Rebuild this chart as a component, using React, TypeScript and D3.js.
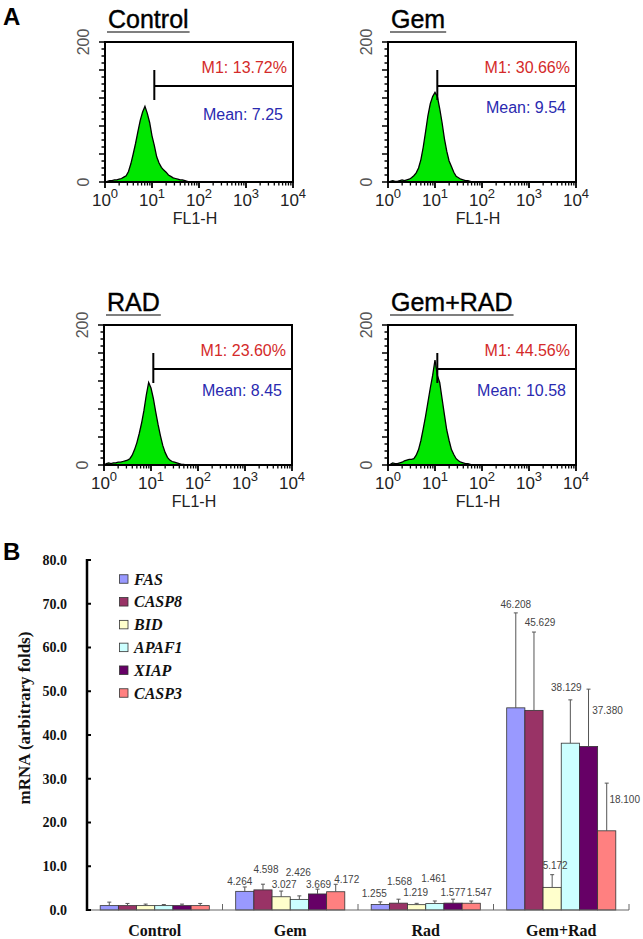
import React, { useEffect, useRef } from 'react';
import * as d3 from 'd3';

// ---- Panel A: flow cytometry histograms ----
const flowTitles = ['Control', 'Gem', 'RAD', 'Gem+RAD'];
const m1Labels = ['M1: 13.72%', 'M1: 30.66%', 'M1: 23.60%', 'M1: 44.56%'];
const meanLabels = ['Mean: 7.25', 'Mean: 9.54', 'Mean: 8.45', 'Mean: 10.58'];
const gateStart = 11.2; // M1 lower bound on FL1-H
const xTickExps = [0, 1, 2, 3, 4];

// channel positions (log10 of FL1-H)
const binLog = [0, 0.05, 0.1, 0.15, 0.2, 0.25, 0.3, 0.35, 0.4, 0.45, 0.5, 0.55, 0.6, 0.65, 0.7, 0.75, 0.8, 0.85, 0.9,
  0.95, 1.0, 1.05, 1.1, 1.15, 1.2, 1.25, 1.3, 1.35, 1.4, 1.45, 1.5, 1.55, 1.6, 1.65, 1.7, 1.75, 1.8];

const controlCounts = [0, 1, 2, 2, 3, 3, 4, 5, 7, 9, 15, 26, 40, 55, 72, 88, 100, 108, 98,
  85, 66, 52, 36, 27, 21, 17, 14, 10, 8, 6, 5, 4, 3, 3, 2, 1, 0];
const gemCounts = [0, 1, 2, 1, 1, 2, 3, 2, 3, 4, 6, 9, 13, 20, 32, 50, 72, 95, 112,
  122, 128, 122, 105, 85, 62, 44, 30, 22, 14, 8, 6, 4, 3, 2, 2, 1, 0];
const radCounts = [0, 2, 3, 2, 3, 3, 4, 4, 5, 6, 7, 9, 14, 22, 32, 45, 60, 78, 100,
  118, 110, 95, 76, 58, 42, 28, 18, 11, 7, 5, 4, 3, 2, 1, 1, 0, 0];
const gemRadCounts = [0, 1, 3, 2, 2, 3, 4, 6, 7, 8, 8, 9, 14, 22, 35, 52, 70, 90, 110,
  128, 150, 128, 118, 95, 72, 50, 35, 22, 15, 9, 6, 4, 3, 2, 2, 1, 0];

// ---- Panel B: qPCR bar chart ----
const categories = ['Control', 'Gem', 'Rad', 'Gem+Rad'];
const genes = ['FAS', 'CASP8', 'BID', 'APAF1', 'XIAP', 'CASP3'];
const geneColors = ['#9999ff', '#993366', '#ffffcc', '#ccffff', '#660066', '#ff8080'];

const controlValues = [1.0, 1.0, 1.0, 1.0, 1.0, 1.0];
const gemValues = [4.264, 4.598, 3.027, 2.426, 3.669, 4.172];
const radValues = [1.255, 1.568, 1.219, 1.461, 1.577, 1.547];
const gemRadValues = [46.208, 45.629, 5.172, 38.129, 37.380, 18.100];

const controlErrors = [0.8, 0.5, 0.35, 0.25, 0.35, 0.5];
const gemErrors = [1.0, 1.3, 1.3, 0.8, 1.1, 1.7];
const radErrors = [0.6, 0.9, 0.3, 0.6, 0.9, 0.5];
const gemRadErrors = [21.7, 17.9, 2.9, 9.9, 13.1, 10.9];

const showValueLabels = [false, true, true, true];
const yTicks = [0, 10, 20, 30, 40, 50, 60, 70, 80];

const App = () => {
  const svgRef = useRef(null);

  useEffect(() => {
    const svg = d3.select(svgRef.current);
    svg.selectAll('*').remove();

    const sans = 'Liberation Sans, Arial, sans-serif';
    const serif = 'Liberation Serif, Times New Roman, serif';

    // panel letters
    svg.append('text').attr('x', 3).attr('y', 25).attr('font-family', sans)
      .attr('font-weight', 'bold').attr('font-size', 24).text('A');
    svg.append('text').attr('x', 3).attr('y', 560).attr('font-family', sans)
      .attr('font-weight', 'bold').attr('font-size', 24).text('B');

    // ---------- Panel A ----------
    const countsAll = [controlCounts, gemCounts, radCounts, gemRadCounts];
    const boxW = 188, boxH = 140;
    const origins = [[105, 42], [388, 42], [104, 325], [388, 325]];
    const meanDy = [78, 71, 71, 71];

    countsAll.forEach((counts, i) => {
      const [x0, y0] = origins[i];
      const g = svg.append('g');
      const x = d3.scaleLog().domain([1, 10000]).range([x0, x0 + boxW]);
      const y = d3.scaleLinear().domain([0, 200]).range([y0 + boxH, y0]);

      const pts = binLog.map((l, j) => ({ v: Math.pow(10, l), c: counts[j] }));
      const area = d3.area()
        .x(d => x(d.v))
        .y0(y(0))
        .y1(d => y(d.c));
      const line = d3.line().x(d => x(d.v)).y(d => y(d.c));

      g.append('path').attr('d', area(pts)).attr('fill', '#00e600');
      g.append('path').attr('d', line(pts)).attr('fill', 'none')
        .attr('stroke', '#000').attr('stroke-width', 1.3);

      // frame
      g.append('rect').attr('x', x0).attr('y', y0).attr('width', boxW).attr('height', boxH)
        .attr('fill', 'none').attr('stroke', '#000').attr('stroke-width', 2);

      // x ticks (log decades + minors)
      xTickExps.forEach(e => {
        const base = Math.pow(10, e);
        g.append('line').attr('x1', x(base)).attr('x2', x(base))
          .attr('y1', y0 + boxH).attr('y2', y0 + boxH + 6)
          .attr('stroke', '#000').attr('stroke-width', 1.8);
        if (e < 4) {
          for (let m = 2; m <= 9; m++) {
            const xv = x(m * base);
            g.append('line').attr('x1', xv).attr('x2', xv)
              .attr('y1', y0 + boxH).attr('y2', y0 + boxH + 3.5)
              .attr('stroke', '#000').attr('stroke-width', 1.3);
          }
        }
        const t = g.append('text').attr('x', x(base)).attr('y', y0 + boxH + 24)
          .attr('text-anchor', 'middle').attr('font-family', sans).attr('font-size', 17)
          .attr('fill', '#222');
        t.append('tspan').text('10');
        t.append('tspan').attr('dy', -8).attr('font-size', 13).text(String(e));
      });

      // y ticks
      d3.range(0, 201, 10).forEach(v => {
        const major = v % 40 === 0;
        g.append('line').attr('x1', x0).attr('x2', x0 - (major ? 6 : 3.5))
          .attr('y1', y(v)).attr('y2', y(v))
          .attr('stroke', '#000').attr('stroke-width', 1.5);
      });
      [200, 0].forEach(v => {
        g.append('text')
          .attr('transform', `translate(${x0 - 22},${y(v)}) rotate(-90)`)
          .attr('text-anchor', 'middle').attr('dy', '0.35em')
          .attr('font-family', sans).attr('font-size', 16).attr('fill', '#555')
          .text(String(v));
      });

      g.append('text').attr('x', x0 + boxW / 2 - 4).attr('y', y0 + boxH + 42)
        .attr('text-anchor', 'middle').attr('font-family', sans).attr('font-size', 16)
        .attr('fill', '#222').text('FL1-H');

      // title + underline
      const title = g.append('text').attr('x', x0 + 3).attr('y', y0 - 14)
        .attr('font-family', sans).attr('font-size', 25).attr('fill', '#000')
        .attr('stroke', '#000').attr('stroke-width', 0.4)
        .text(flowTitles[i]);
      const tw = title.node().getComputedTextLength();
      g.append('line').attr('x1', x0 + 2).attr('x2', x0 + 4 + tw)
        .attr('y1', y0 - 10).attr('y2', y0 - 10)
        .attr('stroke', '#555').attr('stroke-width', 1.5);

      // M1 gate marker
      const gx = x(gateStart);
      g.append('line').attr('x1', gx).attr('x2', gx).attr('y1', y0 + 28).attr('y2', y0 + 58)
        .attr('stroke', '#000').attr('stroke-width', 2);
      g.append('line').attr('x1', gx).attr('x2', x0 + boxW).attr('y1', y0 + 44).attr('y2', y0 + 44)
        .attr('stroke', '#000').attr('stroke-width', 2);

      g.append('text').attr('x', x0 + boxW - 6).attr('y', y0 + 31)
        .attr('text-anchor', 'end').attr('font-family', sans).attr('font-size', 16)
        .attr('fill', '#d42a2a').text(m1Labels[i]);
      g.append('text').attr('x', x0 + boxW - 10).attr('y', y0 + meanDy[i])
        .attr('text-anchor', 'end').attr('font-family', sans).attr('font-size', 16)
        .attr('fill', '#2a2ab0').text(meanLabels[i]);
    });

    // ---------- Panel B ----------
    const valuesAll = [controlValues, gemValues, radValues, gemRadValues];
    const errorsAll = [controlErrors, gemErrors, radErrors, gemRadErrors];
    // manual nudges of the value labels, [dx, dy] from the error bar top
    const labelNudge = [
      [],
      [[-5, -2], [3, -11], [3, -3], [-1, -20], [1, -1], [11, -1]],
      [[-6, -5], [1, -14], [-1, -7], [-1, -19], [0, -3], [8, -5]],
      [[0, -5], [6, -6], [3, -6], [-4, -9], [19, 25], [18, 20]],
    ];

    const xCat = d3.scaleBand().domain(categories).range([87, 629]);
    const xGene = d3.scaleBand().domain(genes).range([13.2, xCat.bandwidth() - 13.2]);
    const yB = d3.scaleLinear().domain([0, 80]).range([910, 560]);

    const chart = svg.append('g');
    const barLayer = chart.append('g');
    const labelLayer = chart.append('g');

    categories.forEach((cat, ci) => {
      const cg = barLayer.append('g').attr('transform', `translate(${xCat(cat)},0)`);
      const lg = labelLayer.append('g').attr('transform', `translate(${xCat(cat)},0)`);
      genes.forEach((gene, gi) => {
        const v = valuesAll[ci][gi];
        const e = errorsAll[ci][gi];
        const bx = xGene(gene);
        const cx = bx + xGene.bandwidth() / 2;
        cg.append('rect').attr('x', bx).attr('y', yB(v))
          .attr('width', xGene.bandwidth()).attr('height', yB(0) - yB(v))
          .attr('fill', geneColors[gi]).attr('stroke', '#333').attr('stroke-width', 0.8);
        cg.append('line').attr('x1', cx).attr('x2', cx).attr('y1', yB(v)).attr('y2', yB(v + e))
          .attr('stroke', '#555').attr('stroke-width', 1);
        cg.append('line').attr('x1', cx - 2).attr('x2', cx + 2).attr('y1', yB(v + e)).attr('y2', yB(v + e))
          .attr('stroke', '#555').attr('stroke-width', 1);
        if (showValueLabels[ci]) {
          const [dx, dy] = labelNudge[ci][gi];
          lg.append('text').attr('x', cx + dx).attr('y', yB(v + e) + dy)
            .attr('text-anchor', 'middle').attr('font-family', sans).attr('font-size', 10)
            .attr('fill', '#444').text(d3.format('.3f')(v));
        }
      });
      chart.append('text').attr('x', xCat(cat) + xCat.bandwidth() / 2).attr('y', 936)
        .attr('text-anchor', 'middle').attr('font-family', serif).attr('font-weight', 'bold')
        .attr('font-size', 16).attr('fill', '#111').text(cat);
    });

    // x axis
    chart.append('line').attr('x1', 87).attr('x2', 629).attr('y1', yB(0)).attr('y2', yB(0))
      .attr('stroke', '#666').attr('stroke-width', 1);
    categories.forEach(cat => {
      const xe = xCat(cat) + xCat.bandwidth();
      chart.append('line').attr('x1', xe).attr('x2', xe).attr('y1', yB(0)).attr('y2', yB(0) - 6)
        .attr('stroke', '#666').attr('stroke-width', 1);
    });

    // y axis
    chart.append('line').attr('x1', 87).attr('x2', 87).attr('y1', yB(80) - 1).attr('y2', yB(0) + 1)
      .attr('stroke', '#000').attr('stroke-width', 2.5);
    yTicks.forEach(t => {
      chart.append('line').attr('x1', 87).attr('x2', 91).attr('y1', yB(t)).attr('y2', yB(t))
        .attr('stroke', '#000').attr('stroke-width', 2);
      chart.append('text').attr('x', 67).attr('y', yB(t)).attr('dy', '0.35em')
        .attr('text-anchor', 'end').attr('font-family', serif).attr('font-weight', 'bold')
        .attr('font-size', 14).attr('fill', '#111').text(d3.format('.1f')(t));
    });
    chart.append('text')
      .attr('transform', 'translate(24,718) rotate(-90)')
      .attr('text-anchor', 'middle').attr('dy', '0.35em')
      .attr('font-family', serif).attr('font-weight', 'bold').attr('font-size', 17)
      .attr('fill', '#111').text('mRNA  (arbitrary folds)');

    // legend
    const legend = chart.append('g');
    genes.forEach((gene, gi) => {
      const ly = 579 + gi * 22.8;
      legend.append('rect').attr('x', 119.5).attr('y', ly - 4.25).attr('width', 8.5).attr('height', 8.5)
        .attr('fill', geneColors[gi]).attr('stroke', '#333').attr('stroke-width', 0.8);
      legend.append('text').attr('x', 134).attr('y', ly).attr('dy', '0.35em')
        .attr('font-family', serif).attr('font-weight', 'bold').attr('font-style', 'italic')
        .attr('font-size', 16).attr('fill', '#111').text(gene);
    });
  }, []);

  return (
    <svg ref={svgRef} width={643} height={939}
      style={{ position: 'absolute', left: 0, top: 0, background: '#fff' }} />
  );
};

export default App;
